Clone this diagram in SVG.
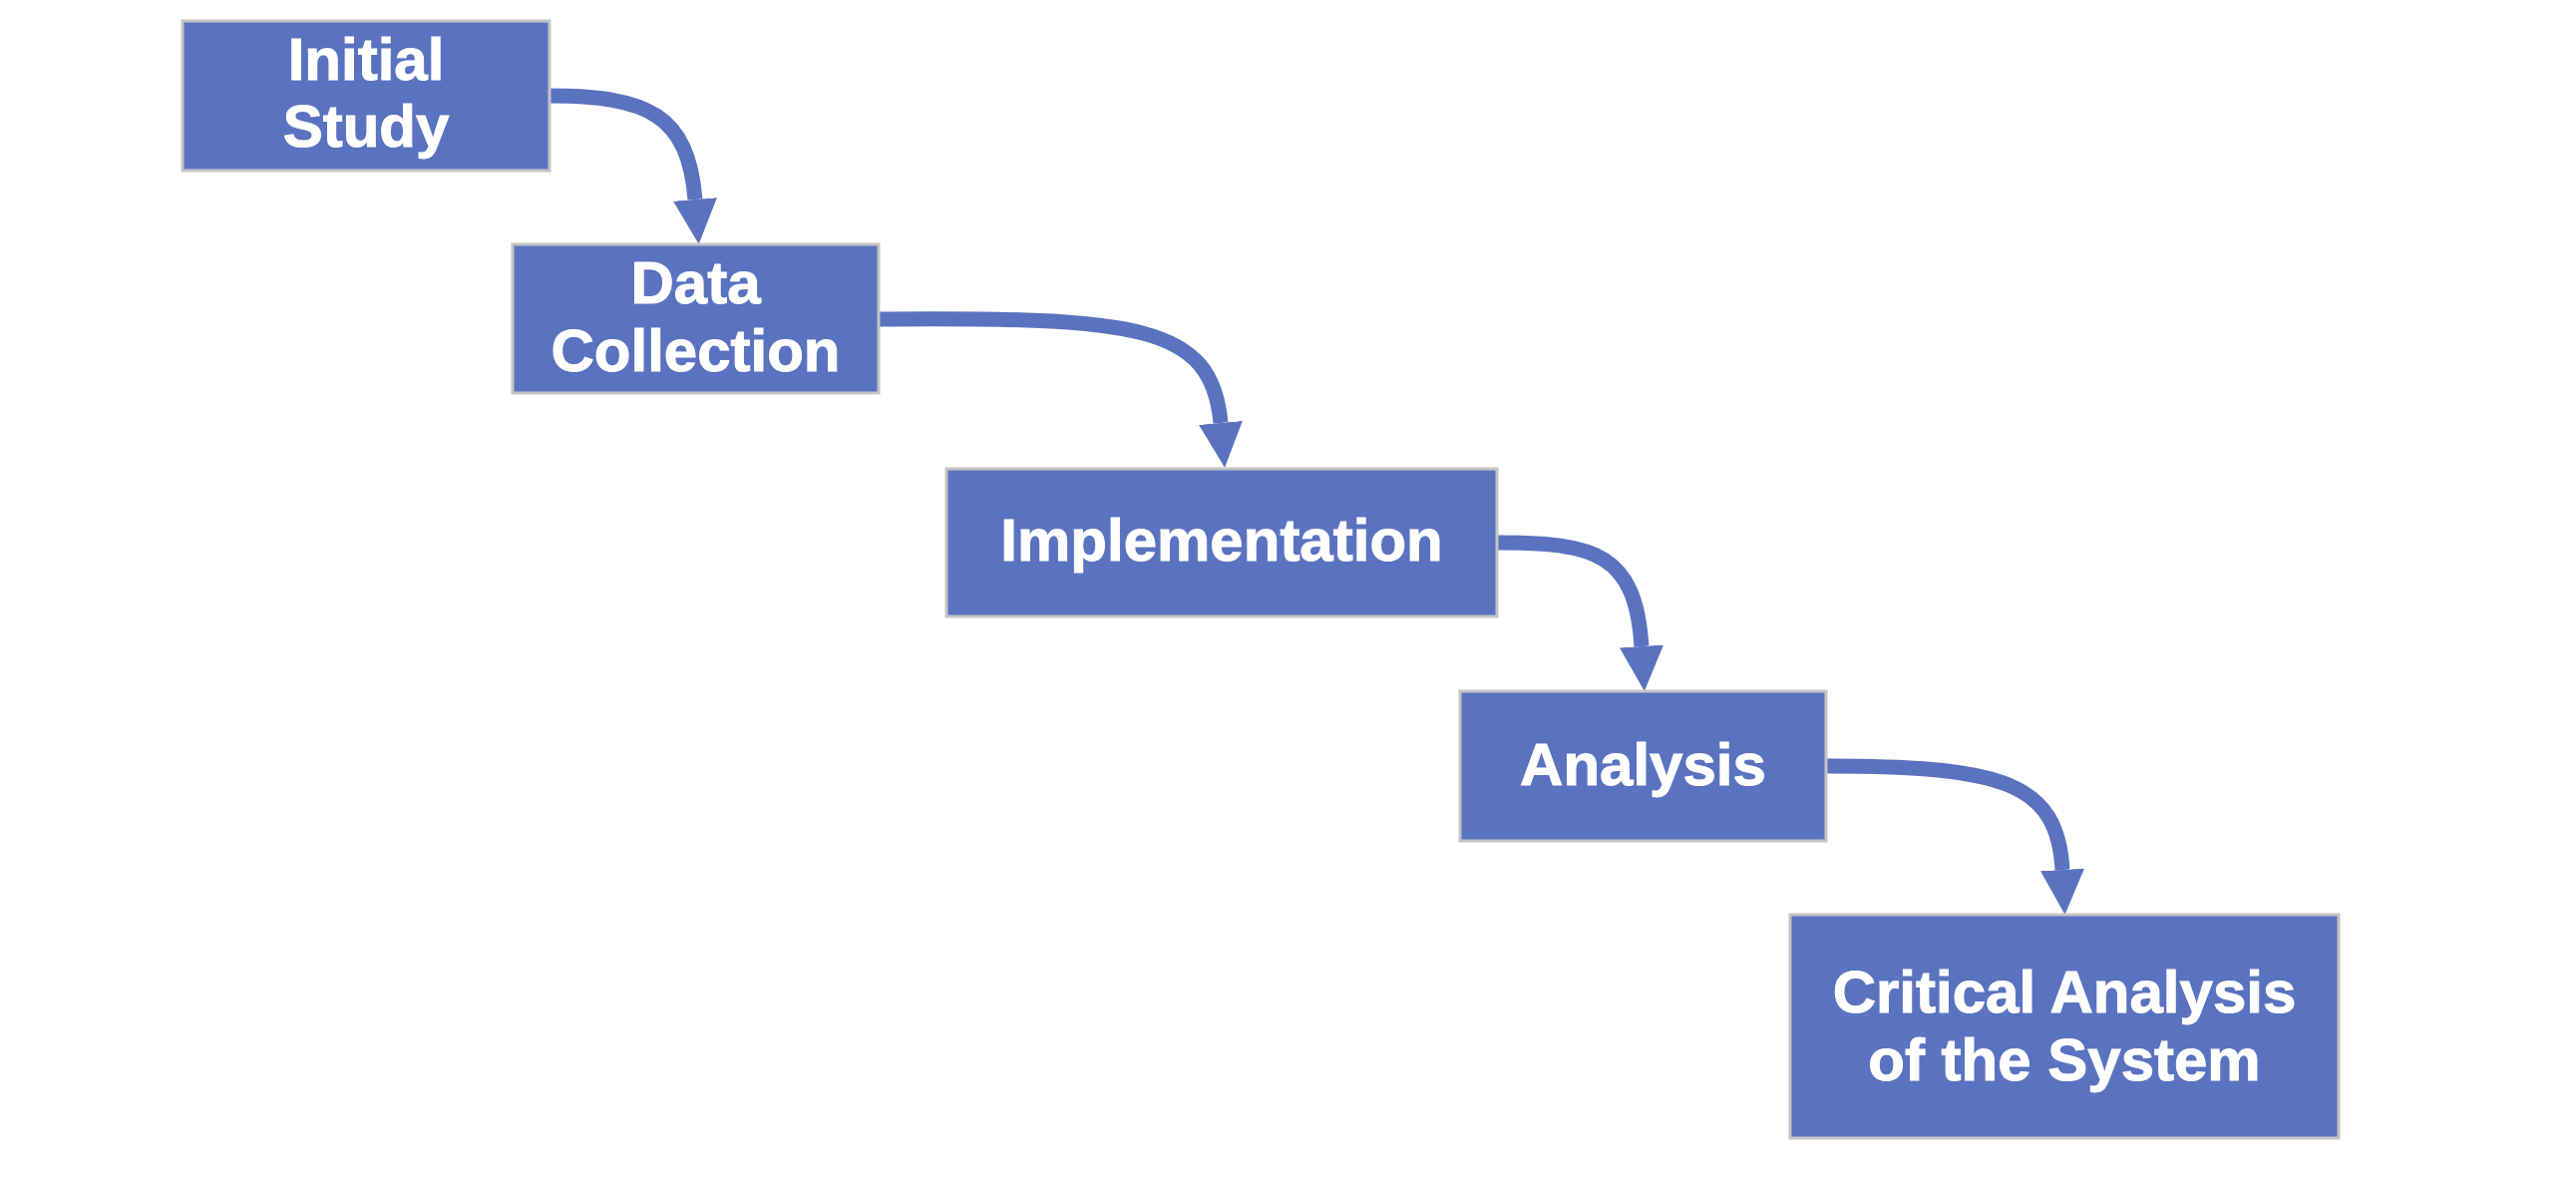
<svg xmlns="http://www.w3.org/2000/svg" width="2583" height="1183" viewBox="0 0 2583 1183">
<style>
.box{fill:#5A73C0;stroke:#C4C4C4;stroke-width:3}
.lbl{font-family:"Liberation Sans",Arial,sans-serif;font-weight:bold;font-size:60px;fill:#FFFFFF;stroke:#FFFFFF;stroke-width:1;text-anchor:middle}
.conn{fill:none;stroke:#5A73C0;stroke-width:15;marker-end:url(#head)}
</style>
<defs>
<marker id="head" markerUnits="userSpaceOnUse" viewBox="0 0 45 44" markerWidth="45" markerHeight="44" refX="0" refY="22" orient="auto">
<path d="M0,0 L45,22 L0,44 Z" fill="#5A73C0"/>
</marker>
</defs>
<rect width="2583" height="1183" fill="#FFFFFF"/>
<g id="connectors">
<path class="conn" d="M550,96 C 650,96 690,115 697,200"/>
<path class="conn" d="M881,320 C 1140,318 1215,325 1224,424"/>
<path class="conn" d="M1501,544 C 1600,544 1640,555 1646,648"/>
<path class="conn" d="M1831,768 C 2010,768 2063,785 2068,872"/>
</g>
<g id="initial-study">
<rect class="box" x="183" y="21" width="368" height="150"/>
<text class="lbl" x="367" y="80">Initial</text>
<text class="lbl" x="367" y="147">Study</text>
</g>
<g id="data-collection">
<rect class="box" x="514" y="245" width="367" height="149"/>
<text class="lbl" x="697.5" y="304">Data</text>
<text class="lbl" x="697.5" y="372">Collection</text>
</g>
<g id="implementation">
<rect class="box" x="949" y="470" width="552" height="148"/>
<text class="lbl" x="1225" y="562">Implementation</text>
</g>
<g id="analysis">
<rect class="box" x="1464" y="693" width="367" height="150"/>
<text class="lbl" x="1647.5" y="787">Analysis</text>
</g>
<g id="critical-analysis">
<rect class="box" x="1795" y="917" width="550" height="224"/>
<text class="lbl" x="2070" y="1015">Critical Analysis</text>
<text class="lbl" x="2070" y="1083">of the System</text>
</g>
</svg>
